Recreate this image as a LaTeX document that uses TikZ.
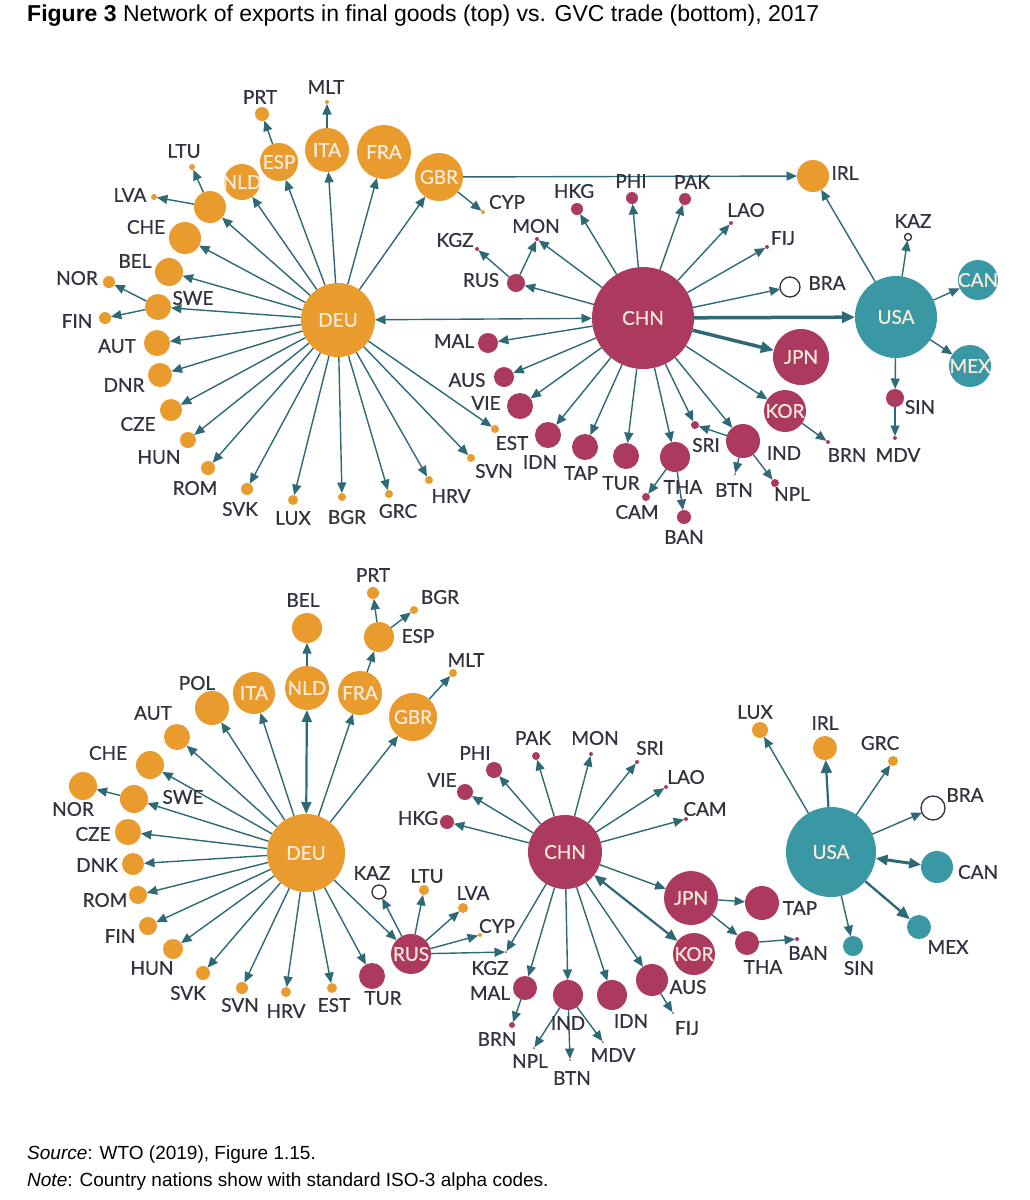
\documentclass[tikz,border=0pt]{standalone}
\usepackage{fontspec}
\setmainfont{Liberation Sans}
\newfontfamily\lato{Lato}[BoldFont=Lato,BoldFeatures={FakeBold=0.6}]
\usetikzlibrary{arrows.meta}
\pgfdeclarelayer{bg}
\pgfsetlayers{bg,main}
\definecolor{cEU}{RGB}{233,155,46}
\definecolor{cAS}{RGB}{172,58,94}
\definecolor{cAM}{RGB}{58,152,164}
\definecolor{cArr}{RGB}{45,106,118}
\definecolor{cLab}{RGB}{50,50,62}
\definecolor{cIn}{RGB}{250,236,218}
\newcommand\ctry[5]{\node[#2,minimum size=#5*2pt] (#1) at (#3,#4) {};}
\newcommand\clab[4]{\node[lab] (#1) at (#2,#3) {#4};}
\newcommand\ctxt[2]{\node[intext] (#1t) at (#1) {#2};}
\tikzset{
  cty/.style={circle,inner sep=0pt,outer sep=0pt},
  eu/.style={cty,fill=cEU},
  as/.style={cty,fill=cAS},
  am/.style={cty,fill=cAM},
  open/.style={cty,draw=cLab,line width=1.3pt,fill=white},
  lab/.style={font=\lato\bfseries\fontsize{19}{19}\selectfont,text=cLab,inner sep=0pt},
  intext/.style={font=\lato\bfseries\fontsize{19}{19}\selectfont,text=cIn,inner sep=0pt},
  arr/.style={draw=cArr,line width=1.4pt,-{Triangle[length=10.5pt,width=9pt]}},
  biarr/.style={draw=cArr,line width=1.4pt,{Triangle[length=10.5pt,width=9pt]}-{Triangle[length=10.5pt,width=9pt]}},
  fat/.style={draw=cArr,line width=#1,-{Triangle[length=13pt,width=11pt]}},
  bifat/.style={draw=cArr,line width=#1,{Triangle[length=12pt,width=10pt]}-{Triangle[length=12pt,width=10pt]}},
  txt/.style={anchor=base west,inner sep=0pt,text=black}
}
\begin{document}
\begin{tikzpicture}[x=1pt,y=-1pt]
\begin{pgfonlayer}{bg}
\fill[white] (0,0) rectangle (1030,1200);
\end{pgfonlayer}
\useasboundingbox (0,0) rectangle (1030,1200);

\node[txt,font=\fontsize{23}{23}\selectfont] (title) at (27,21) {\textbf{Figure 3} Network of exports in final goods (top) vs. GVC trade (bottom), 2017};
\node[txt,font=\fontsize{19}{19}\selectfont] (src) at (27,1159) {\textit{Source}: WTO (2019), Figure 1.15.};
\node[txt,font=\fontsize{19}{19}\selectfont] (note) at (27,1186) {\textit{Note}: Country nations show with standard ISO-3 alpha codes.};

% ================= TOP =================
\ctry{tDEU}{eu}{338}{320}{37}\ctxt{tDEU}{DEU}
\ctry{tGBR}{eu}{439}{177}{24}\ctxt{tGBR}{GBR}
\ctry{tFRA}{eu}{384}{152}{27}\ctxt{tFRA}{FRA}
\ctry{tITA}{eu}{327}{150}{22}\ctxt{tITA}{ITA}
\ctry{tESP}{eu}{279}{162}{19}\ctxt{tESP}{ESP}
\ctry{tNLD}{eu}{242}{182}{18}\ctxt{tNLD}{NLD}
\ctry{tPRT}{eu}{262}{114}{7}\clab{tPRTl}{260}{97}{PRT}
\ctry{tMLT}{eu}{327}{102}{2}\clab{tMLTl}{326}{87}{MLT}
\ctry{tLTU}{eu}{192}{167}{3}\clab{tLTUl}{184}{151}{LTU}
\ctry{tPOL}{eu}{210}{207}{16}
\ctry{tLVA}{eu}{154}{197}{3}\clab{tLVAl}{130}{195}{LVA}
\ctry{tCHE}{eu}{185}{238}{16}\clab{tCHEl}{146}{227}{CHE}
\ctry{tBEL}{eu}{169}{272}{14}\clab{tBELl}{135}{261}{BEL}
\ctry{tNOR}{eu}{109}{282}{6}\clab{tNORl}{77}{278}{NOR}
\ctry{tSWE}{eu}{158}{307}{13}\clab{tSWEl}{193}{298}{SWE}
\ctry{tFIN}{eu}{105}{318}{6}\clab{tFINl}{77}{321}{FIN}
\ctry{tAUT}{eu}{157}{343}{13}\clab{tAUTl}{117}{346}{AUT}
\ctry{tDNR}{eu}{160}{375}{12}\clab{tDNRl}{124}{385}{DNR}
\ctry{tCZE}{eu}{171}{410}{11}\clab{tCZEl}{138}{424}{CZE}
\ctry{tHUN}{eu}{188}{440}{8}\clab{tHUNl}{159}{457}{HUN}
\ctry{tROM}{eu}{208}{468}{7}\clab{tROMl}{195}{488}{ROM}
\ctry{tSVK}{eu}{247}{489}{6}\clab{tSVKl}{240}{509}{SVK}
\ctry{tLUX}{eu}{293}{500}{5}\clab{tLUXl}{293}{518}{LUX}
\ctry{tBGR}{eu}{342}{497}{4}\clab{tBGRl}{347}{517}{BGR}
\ctry{tGRC}{eu}{389}{494}{4}\clab{tGRCl}{398}{511}{GRC}
\ctry{tHRV}{eu}{429}{480}{4}\clab{tHRVl}{451}{496}{HRV}
\ctry{tSVN}{eu}{471}{458}{4}\clab{tSVNl}{494}{471}{SVN}
\ctry{tEST}{eu}{495}{429}{4}\clab{tESTl}{512}{443}{EST}
\ctry{tCYP}{eu}{483}{212}{2}\clab{tCYPl}{507}{202}{CYP}
\ctry{tIRL}{eu}{813}{176}{16}\clab{tIRLl}{845}{173}{IRL}

\ctry{tCHN}{as}{643}{318}{51}\ctxt{tCHN}{CHN}
\ctry{tJPN}{as}{801}{357}{28}\ctxt{tJPN}{JPN}
\ctry{tKOR}{as}{785}{411}{21}\ctxt{tKOR}{KOR}
\ctry{tHKG}{as}{577}{209}{6}\clab{tHKGl}{574}{191}{HKG}
\ctry{tPHI}{as}{632}{198}{6}\clab{tPHIl}{631}{181}{PHI}
\ctry{tPAK}{as}{685}{199}{6}\clab{tPAKl}{692}{182}{PAK}
\ctry{tLAO}{as}{731}{223}{2}\clab{tLAOl}{746}{210}{LAO}
\ctry{tFIJ}{as}{767}{247}{2}\clab{tFIJl}{783}{238}{FIJ}
\ctry{tMON}{as}{537}{239}{2}\clab{tMONl}{536}{226}{MON}
\ctry{tKGZ}{as}{477}{249}{2}\clab{tKGZl}{455}{240}{KGZ}
\ctry{tRUS}{as}{516}{283}{9}\clab{tRUSl}{481}{280}{RUS}
\ctry{tMAL}{as}{488}{343}{10}\clab{tMALl}{454}{341}{MAL}
\ctry{tAUS}{as}{504}{377}{10}\clab{tAUSl}{467}{380}{AUS}
\ctry{tVIE}{as}{520}{406}{13}\clab{tVIEl}{486}{403}{VIE}
\ctry{tIDN}{as}{548}{435}{13}\clab{tIDNl}{540}{462}{IDN}
\ctry{tTAP}{as}{585}{447}{13}\clab{tTAPl}{581}{473}{TAP}
\ctry{tTUR}{as}{626}{456}{13}\clab{tTURl}{621}{483}{TUR}
\ctry{tTHA}{as}{675}{457}{15}\clab{tTHAl}{683}{487}{THA}
\ctry{tCAM}{as}{646}{497}{4}\clab{tCAMl}{637}{512}{CAM}
\ctry{tBAN}{as}{684}{517}{7}\clab{tBANl}{684}{537}{BAN}
\ctry{tSRI}{as}{695}{425}{4}\clab{tSRIl}{706}{445}{SRI}
\ctry{tIND}{as}{743}{441}{17}\clab{tINDl}{784}{453}{IND}
\ctry{tBTN}{as}{735}{474}{1}\clab{tBTNl}{734}{490}{BTN}
\ctry{tNPL}{as}{775}{483}{4}\clab{tNPLl}{792}{494}{NPL}
\ctry{tBRN}{as}{828}{442}{2}\clab{tBRNl}{847}{455}{BRN}
\ctry{tSIN}{as}{895}{398}{9}\clab{tSINl}{920}{407}{SIN}
\ctry{tMDV}{as}{895}{438}{2}\clab{tMDVl}{898}{455}{MDV}

\ctry{tUSA}{am}{896}{317}{41}\ctxt{tUSA}{USA}
\ctry{tCAN}{am}{978}{280}{20}\ctxt{tCAN}{CAN}
\ctry{tMEX}{am}{970}{366}{21}\ctxt{tMEX}{MEX}
\ctry{tBRA}{open}{790}{287}{10}\clab{tBRAl}{827}{283}{BRA}
\ctry{tKAZ}{open}{908}{237}{3.5}\clab{tKAZl}{913}{221}{KAZ}

% ================= BOTTOM =================
\ctry{bDEU}{eu}{306}{853}{39}\ctxt{bDEU}{DEU}
\ctry{bNLD}{eu}{307}{688}{22}\ctxt{bNLD}{NLD}
\ctry{bBEL}{eu}{307}{628}{15}\clab{bBELl}{303}{600}{BEL}
\ctry{bITA}{eu}{254}{693}{21}\ctxt{bITA}{ITA}
\ctry{bFRA}{eu}{360}{693}{22}\ctxt{bFRA}{FRA}
\ctry{bGBR}{eu}{413}{717}{24}\ctxt{bGBR}{GBR}
\ctry{bESP}{eu}{379}{637}{15}\clab{bESPl}{418}{636}{ESP}
\ctry{bPRT}{eu}{373}{593}{6}\clab{bPRTl}{373}{575}{PRT}
\ctry{bBGR}{eu}{414}{610}{4}\clab{bBGRl}{440}{597}{BGR}
\ctry{bMLT}{eu}{453}{673}{4}\clab{bMLTl}{466}{660}{MLT}
\ctry{bPOL}{eu}{212}{708}{17}\clab{bPOLl}{197}{683}{POL}
\ctry{bAUT}{eu}{177}{737}{13}\clab{bAUTl}{153}{713}{AUT}
\ctry{bCHE}{eu}{150}{765}{14}\clab{bCHEl}{108}{753}{CHE}
\ctry{bSWE}{eu}{134}{799}{14}\clab{bSWEl}{183}{797}{SWE}
\ctry{bNOR}{eu}{83}{786}{14}\clab{bNORl}{73}{809}{NOR}
\ctry{bCZE}{eu}{128}{832}{13}\clab{bCZEl}{93}{834}{CZE}
\ctry{bDNK}{eu}{133}{864}{11}\clab{bDNKl}{97}{865}{DNK}
\ctry{bROM}{eu}{138}{895}{9}\clab{bROMl}{105}{900}{ROM}
\ctry{bFIN}{eu}{148}{926}{9}\clab{bFINl}{120}{936}{FIN}
\ctry{bHUN}{eu}{173}{949}{10}\clab{bHUNl}{152}{968}{HUN}
\ctry{bSVK}{eu}{203}{973}{7}\clab{bSVKl}{188}{993}{SVK}
\ctry{bSVN}{eu}{242}{988}{6}\clab{bSVNl}{240}{1005}{SVN}
\ctry{bHRV}{eu}{286}{992}{5}\clab{bHRVl}{286}{1011}{HRV}
\ctry{bEST}{eu}{332}{988}{5}\clab{bESTl}{334}{1005}{EST}
\ctry{bLTU}{eu}{424}{890}{5}\clab{bLTUl}{427}{876}{LTU}
\ctry{bLVA}{eu}{463}{908}{5}\clab{bLVAl}{473}{893}{LVA}
\ctry{bCYP}{eu}{480}{935}{2}\clab{bCYPl}{497}{926}{CYP}
\ctry{bLUX}{eu}{760}{730}{8}\clab{bLUXl}{755}{712}{LUX}
\ctry{bIRL}{eu}{825}{748}{12}\clab{bIRLl}{825}{723}{IRL}
\ctry{bGRC}{eu}{893}{761}{5}\clab{bGRCl}{880}{743}{GRC}

\ctry{bCHN}{as}{565}{852}{37}\ctxt{bCHN}{CHN}
\ctry{bRUS}{as}{411}{954}{20}\ctxt{bRUS}{RUS}
\ctry{bTUR}{as}{372}{976}{13}\clab{bTURl}{383}{998}{TUR}
\ctry{bKGZ}{as}{506}{952}{1}\clab{bKGZl}{490}{968}{KGZ}
\ctry{bPHI}{as}{494}{770}{8}\clab{bPHIl}{475}{753}{PHI}
\ctry{bVIE}{as}{465}{792}{8}\clab{bVIEl}{442}{780}{VIE}
\ctry{bHKG}{as}{447}{822}{7}\clab{bHKGl}{418}{818}{HKG}
\ctry{bPAK}{as}{536}{756}{4}\clab{bPAKl}{533}{738}{PAK}
\ctry{bMON}{as}{591}{754}{2}\clab{bMONl}{595}{738}{MON}
\ctry{bSRI}{as}{637}{762}{2}\clab{bSRIl}{650}{748}{SRI}
\ctry{bLAO}{as}{666}{787}{2}\clab{bLAOl}{686}{777}{LAO}
\ctry{bCAM}{as}{686}{819}{2}\clab{bCAMl}{705}{809}{CAM}
\ctry{bJPN}{as}{691}{898}{27}\ctxt{bJPN}{JPN}
\ctry{bKOR}{as}{694}{954}{21}\ctxt{bKOR}{KOR}
\ctry{bTAP}{as}{762}{903}{17}\clab{bTAPl}{800}{908}{TAP}
\ctry{bTHA}{as}{747}{943}{12}\clab{bTHAl}{763}{967}{THA}
\ctry{bBAN}{as}{797}{939}{2}\clab{bBANl}{808}{953}{BAN}
\ctry{bAUS}{as}{652}{980}{16}\clab{bAUSl}{688}{987}{AUS}
\ctry{bIDN}{as}{612}{995}{15}\clab{bIDNl}{631}{1021}{IDN}
\ctry{bIND}{as}{568}{995}{15}\clab{bINDl}{568}{1023}{IND}
\ctry{bMAL}{as}{525}{988}{12}\clab{bMALl}{490}{993}{MAL}
\ctry{bBRN}{as}{512}{1025}{3}\clab{bBRNl}{497}{1039}{BRN}
\ctry{bNPL}{as}{534}{1048}{1}\clab{bNPLl}{530}{1061}{NPL}
\ctry{bBTN}{as}{570}{1060}{1}\clab{bBTNl}{572}{1078}{BTN}
\ctry{bMDV}{as}{603}{1042}{1}\clab{bMDVl}{613}{1055}{MDV}
\ctry{bFIJ}{as}{673}{1013}{1}\clab{bFIJl}{687}{1028}{FIJ}

\ctry{bUSA}{am}{831}{852}{45}\ctxt{bUSA}{USA}
\ctry{bCAN}{am}{937}{867}{16}\clab{bCANl}{978}{872}{CAN}
\ctry{bMEX}{am}{919}{927}{12}\clab{bMEXl}{948}{947}{MEX}
\ctry{bSIN}{am}{853}{946}{10}\clab{bSINl}{859}{968}{SIN}
\ctry{bBRA}{open}{933}{808}{12}\clab{bBRAl}{965}{795}{BRA}
\ctry{bKAZ}{open}{379}{892}{7}\clab{bKAZl}{372}{873}{KAZ}

\begin{pgfonlayer}{bg}
% ---- top edges
\foreach \t in {GBR,FRA,ITA,ESP,NLD,POL,CHE,BEL,SWE,AUT,DNR,CZE,HUN,ROM,SVK,LUX,BGR,GRC,HRV,SVN,EST}
  \draw[arr] (tDEU) -- (t\t);
\draw[arr] (tPOL) -- (tLTU);
\draw[arr] (tPOL) -- (tLVA);
\draw[arr] (tSWE) -- (tNOR);
\draw[arr] (tSWE) -- (tFIN);
\draw[arr] (tESP) -- (tPRT);
\draw[arr] (tITA) -- (tMLT);
\draw[arr] (tGBR) -- (tCYP);
\draw[arr] (tGBR) -- (tIRL);
\draw[biarr] (tDEU) -- (tCHN);
\draw[fat=3.5pt] (tCHN) -- (tUSA);
\draw[fat=3.5pt] (tCHN) -- (tJPN);
\foreach \t in {HKG,PHI,PAK,LAO,FIJ,BRA,MON,RUS,MAL,AUS,VIE,IDN,TAP,TUR,THA,SRI,IND,KOR}
  \draw[arr] (tCHN) -- (t\t);
\draw[arr] (tRUS) -- (tKGZ);
\draw[arr] (tRUS) -- (tMON);
\draw[arr] (tTHA) -- (tCAM);
\draw[arr] (tTHA) -- (tBAN);
\draw[arr] (tIND) -- (tSRI);
\draw[arr] (tIND) -- (tBTN);
\draw[arr] (tIND) -- (tNPL);
\draw[arr] (tKOR) -- (tBRN);
\foreach \t in {IRL,KAZ,CAN,MEX,SIN}
  \draw[arr] (tUSA) -- (t\t);
\draw[arr] (tSIN) -- (tMDV);
% ---- bottom edges
\draw[bifat=2.2pt] (bDEU) -- (bNLD);
\draw[arr] (bNLD) -- (bBEL);
\foreach \t in {ITA,FRA,GBR,POL,AUT,CHE,SWE,CZE,DNK,ROM,FIN,HUN,SVK,SVN,HRV,EST,TUR,RUS}
  \draw[arr] (bDEU) -- (b\t);
\draw[arr] (bSWE) -- (bNOR);
\draw[arr] (bFRA) -- (bESP);
\draw[arr] (bESP) -- (bPRT);
\draw[arr] (bESP) -- (bBGR);
\draw[arr] (bGBR) -- (bMLT);
\foreach \t in {KAZ,LTU,LVA,CYP,KGZ}
  \draw[arr] (bRUS) -- (b\t);
\foreach \t in {PHI,VIE,HKG,PAK,MON,SRI,LAO,CAM,JPN,AUS,IDN,IND,MAL,KGZ}
  \draw[arr] (bCHN) -- (b\t);
\draw[bifat=2.2pt] (bCHN) -- (bKOR);
\draw[arr] (bJPN) -- (bTAP);
\draw[arr] (bJPN) -- (bTHA);
\draw[arr] (bTHA) -- (bBAN);
\draw[arr] (bMAL) -- (bBRN);
\draw[arr] (bIND) -- (bNPL);
\draw[arr] (bIND) -- (bBTN);
\draw[arr] (bIND) -- (bMDV);
\draw[arr] (bAUS) -- (bFIJ);
\foreach \t in {LUX,GRC,BRA,SIN}
  \draw[arr] (bUSA) -- (b\t);
\draw[fat=2.2pt] (bUSA) -- (bIRL);
\draw[fat=2.4pt] (bUSA) -- (bMEX);
\draw[bifat=3pt] (bUSA) -- (bCAN);
\end{pgfonlayer}
\end{tikzpicture}
\end{document}
